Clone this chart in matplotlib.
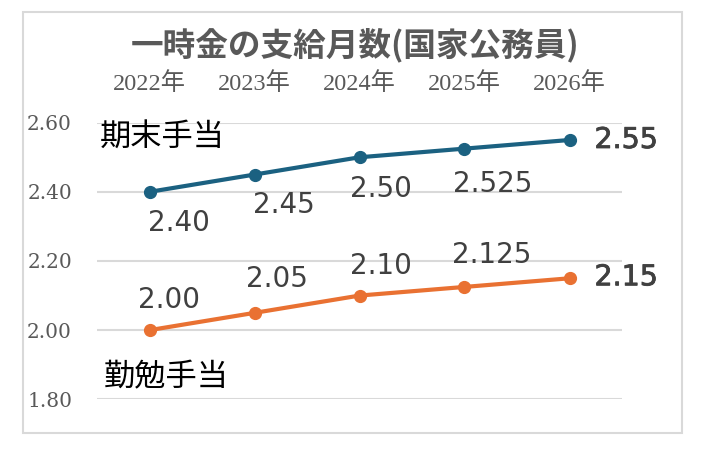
import matplotlib
matplotlib.use("Agg")
import matplotlib.pyplot as plt
from matplotlib.patches import Rectangle
import matplotlib.patheffects as pe

years = ["2022年", "2023年", "2024年", "2025年", "2026年"]
kimatsu = [2.40, 2.45, 2.50, 2.525, 2.55]
kinben = [2.00, 2.05, 2.10, 2.125, 2.15]
kimatsu_labels = ["2.40", "2.45", "2.50", "2.525", "2.55"]
kinben_labels = ["2.00", "2.05", "2.10", "2.125", "2.15"]
yticks = [1.80, 2.00, 2.20, 2.40, 2.60]
title = "一時金の支給月数(国家公務員)"

BLUE = "#1b6181"
ORANGE = "#e97132"
GRAY = "#595959"
DARK = "#404040"
CJK = ["Noto Sans CJK JP", "DejaVu Sans"]
NUM = ["DejaVu Sans"]
XSERIF = ["Liberation Serif", "Noto Sans CJK JP"]
YSERIF = ["DejaVu Serif"]

W, H = 703, 449
PT = 0.72  # points per pixel at dpi 100
fig = plt.figure(figsize=(W / 100, H / 100), dpi=100)
fig.patches.append(Rectangle((23 / W, 1 - 433 / H), (682 - 23) / W, (433 - 12) / H,
                             transform=fig.transFigure, fill=False,
                             edgecolor="#d9d9d9", lw=1.5))

ax = fig.add_axes([97 / W, 1 - 399.3 / H, (622 - 97) / W, (399.3 - 122.7) / H])
x = list(range(len(years)))
ax.set_xlim(-0.5, len(years) - 0.5)
ax.set_ylim(1.80, 2.60)
ax.set_yticks(yticks)
ax.set_yticklabels([f"{v:.2f}" for v in yticks])
ax.set_xticks(x)
ax.set_xticklabels(years)
ax.xaxis.tick_top()
ax.tick_params(axis="both", length=0)
ax.tick_params(axis="x", pad=20)
ax.tick_params(axis="y", pad=18)
ax.grid(axis="y", color="#d9d9d9", lw=1.5)
ax.set_axisbelow(True)
for s in ax.spines.values():
    s.set_visible(False)

for t in ax.xaxis.get_major_ticks():
    for lab in (t.label1, t.label2):
        lab.set_family(XSERIF)
        lab.set_fontsize(17.5)
        lab.set_color(GRAY)
for t in ax.yaxis.get_major_ticks():
    for lab in (t.label1, t.label2):
        lab.set_family(YSERIF)
        lab.set_fontsize(14.5)
        lab.set_color(GRAY)

ax.plot(x, kimatsu, color=BLUE, lw=3, marker="o", ms=8.5, solid_capstyle="round")
ax.plot(x, kinben, color=ORANGE, lw=3, marker="o", ms=8.5, solid_capstyle="round")

# label offsets in pixels (dx, dy up-positive) relative to each point
k_off = [(29, -31), (29, -30), (21, -32), (28, -35), (25, 0)]
b_off = [(19, 30), (22, 34), (21, 30), (27, 32), (25, 1)]
for vals, labels, offs in ((kimatsu, kimatsu_labels, k_off), (kinben, kinben_labels, b_off)):
    for i in range(len(x)):
        last = i == len(x) - 1
        kw = dict(textcoords="offset points", va="center", family=NUM, color=DARK)
        if last:
            kw.update(ha="left", fontsize=20.5,
                      path_effects=[pe.withStroke(linewidth=0.6, foreground=DARK)])
        else:
            kw.update(ha="center", fontsize=20)
        ax.annotate(labels[i], (x[i], vals[i]),
                    xytext=(offs[i][0] * PT, offs[i][1] * PT), **kw)

fig.text(100 / W, 1 - 137 / H, "期末手当", family=CJK, fontsize=22.5, color="black",
         ha="left", va="center")
fig.text(104 / W, 1 - 377 / H, "勤勉手当", family=CJK, fontsize=22.5, color="black",
         ha="left", va="center")
fig.text(355 / W, 1 - 45 / H, title, family=CJK, fontsize=23.5, fontweight="bold",
         color=GRAY, ha="center", va="center")

fig.savefig("out.png", dpi=100)
